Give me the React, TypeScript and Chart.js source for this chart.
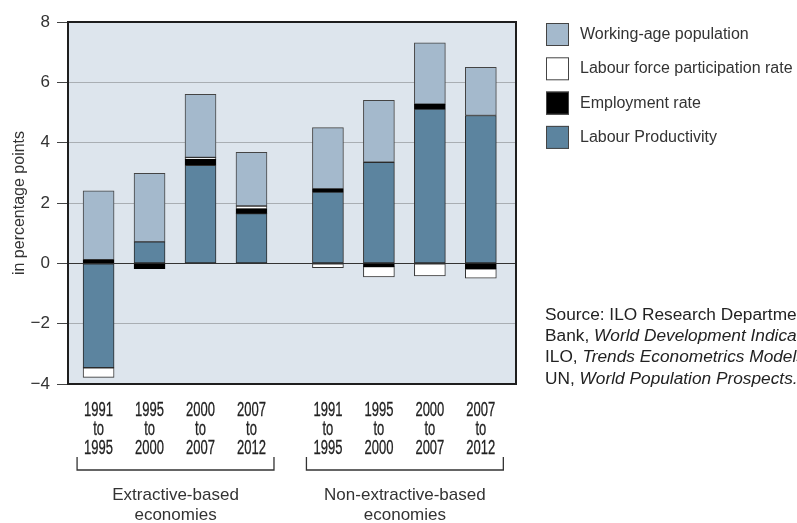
import React, { useEffect, useRef } from "react";
import { Chart, registerables } from "chart.js";

Chart.register(...registerables);

// ---- data ----
const groupNames = [["Extractive-based", "economies"], ["Non-extractive-based", "economies"]];
const periods = [
  ["1991", "to", "1995"],
  ["1995", "to", "2000"],
  ["2000", "to", "2007"],
  ["2007", "to", "2012"],
];
const seriesNames = ["Labour Productivity", "Employment rate", "Labour force participation rate", "Working-age population"];
const labourProductivity = [-3.46, 0.71, 3.25, 1.65, 2.36, 3.35, 5.11, 4.9];
const employmentRate = [0.12, -0.18, 0.2, 0.15, 0.11, -0.11, 0.17, -0.18];
const labourForceParticipation = [-0.32, 0, 0.06, 0.1, -0.14, -0.34, -0.42, -0.31];
const workingAgePopulation = [2.28, 2.27, 2.09, 1.78, 2.03, 2.05, 2.03, 1.6];
const yTickValues = [8, 6, 4, 2, 0, -2, -4];
const yTitle = "in percentage points";
const sourceLines = [
  [{ t: "Source: ILO Research Department calculations based on World", it: false }],
  [{ t: "Bank, ", it: false }, { t: "World Development Indicators;", it: true }],
  [{ t: "ILO, ", it: false }, { t: "Trends Econometrics Models;", it: true }],
  [{ t: "UN, ", it: false }, { t: "World Population Prospects.", it: true }],
];

const colors = {
  lp: "#5c849f",
  emp: "#000000",
  lfp: "#ffffff",
  wap: "#a4b9cc",
  bg: "#dde5ed",
  grid: "#a9aeb3",
  text: "#333333",
};

const FONT = "'Liberation Sans', Arial, sans-serif";

export default function App() {
  const ref = useRef<HTMLCanvasElement | null>(null);

  useEffect(() => {
    if (!ref.current) return;
    const nPer = periods.length;
    const xs: number[] = [];
    const xLabels: string[][] = [];
    groupNames.forEach((_, g) => {
      periods.forEach((p, j) => {
        xs.push(g * (nPer + 0.5) + j);
        xLabels.push(p);
      });
    });
    const toPts = (arr: number[]) => arr.map((v, i) => ({ x: xs[i], y: v === 0 ? null : v }));

    const mk = (label: string, data: number[], bg: string, border: string) => ({
      label,
      data: toPts(data),
      backgroundColor: bg,
      borderColor: border,
      borderWidth: 1,
      borderSkipped: false,
      barThickness: 31,
    });

    const decor = {
      id: "decor",
      beforeDraw(chart: any) {
        const { ctx, chartArea: a } = chart;
        ctx.save();
        ctx.fillStyle = colors.bg;
        ctx.fillRect(a.left, a.top, a.right - a.left, a.bottom - a.top);
        ctx.restore();
      },
      afterDraw(chart: any) {
        const { ctx, chartArea: a } = chart;
        const xScale = chart.scales.x;
        ctx.save();
        // frame
        ctx.strokeStyle = "#1e1e1e";
        ctx.lineWidth = 2;
        ctx.strokeRect(a.left, a.top, a.right - a.left, a.bottom - a.top);

        // condensed x-axis category labels, placed by the x scale
        ctx.fillStyle = "#222";
        ctx.strokeStyle = "#222";
        ctx.lineWidth = 0.3;
        ctx.textAlign = "center";
        ctx.textBaseline = "middle";
        ctx.font = `20px ${FONT}`;
        xLabels.forEach((lines, i) => {
          const px = xScale.getPixelForValue(xs[i]);
          lines.forEach((ln, k) => {
            ctx.save();
            ctx.translate(px, a.bottom + 26 + k * 19);
            ctx.scale(0.65, 1);
            ctx.fillText(ln, 0, 0);
            ctx.strokeText(ln, 0, 0);
            ctx.restore();
          });
        });

        // brackets & group labels
        ctx.strokeStyle = "#333";
        ctx.lineWidth = 1.3;
        ctx.fillStyle = colors.text;
        ctx.font = `17px ${FONT}`;
        groupNames.forEach((lines, g) => {
          const x0 = xScale.getPixelForValue(xs[g * nPer]) - 21.5;
          const x1 = xScale.getPixelForValue(xs[g * nPer + nPer - 1]) + 22.5;
          const yb = 470;
          ctx.beginPath();
          ctx.moveTo(x0, yb - 13);
          ctx.lineTo(x0, yb);
          ctx.lineTo(x1, yb);
          ctx.lineTo(x1, yb - 13);
          ctx.stroke();
          const cx = (x0 + x1) / 2;
          lines.forEach((ln, k) => ctx.fillText(ln, cx, 495 + k * 20.5));
        });

        // legend
        const legendItems = [
          { name: seriesNames[3], c: colors.wap },
          { name: seriesNames[2], c: colors.lfp },
          { name: seriesNames[1], c: colors.emp },
          { name: seriesNames[0], c: colors.lp },
        ];
        ctx.textAlign = "left";
        ctx.font = `16px ${FONT}`;
        legendItems.forEach((it, k) => {
          const top = 23 + k * 34.3;
          ctx.fillStyle = it.c;
          ctx.fillRect(546, top, 23, 23);
          ctx.strokeStyle = "#444";
          ctx.lineWidth = 1;
          ctx.strokeRect(546.5, top + 0.5, 22, 22);
          ctx.fillStyle = colors.text;
          ctx.fillText(it.name, 580, top + 11.5);
        });

        // source
        sourceLines.forEach((segs, k) => {
          let x = 545;
          const y = 315 + k * 21.3;
          segs.forEach((s) => {
            ctx.font = `${s.it ? "italic " : ""}17.3px ${FONT}`;
            ctx.fillStyle = "#222";
            ctx.fillText(s.t, x, y);
            x += ctx.measureText(s.t).width;
          });
        });
        ctx.restore();
      },
    };

    const chart = new Chart(ref.current, {
      type: "bar",
      data: {
        datasets: [
          mk(seriesNames[0], labourProductivity, colors.lp, "#2a2a2a"),
          mk(seriesNames[1], employmentRate, colors.emp, "#000"),
          mk(seriesNames[2], labourForceParticipation, colors.lfp, "#333"),
          mk(seriesNames[3], workingAgePopulation, colors.wap, "#444"),
        ] as any,
      },
      options: {
        responsive: false,
        animation: false,
        layout: { padding: { left: 0, top: 22, right: 281, bottom: 0 } },
        plugins: { legend: { display: false }, tooltip: { enabled: false } },
        scales: {
          x: {
            type: "linear",
            stacked: true,
            offset: false,
            min: -0.6,
            max: 8.19,
            grid: { display: false, drawTicks: false },
            border: { display: false },
            afterBuildTicks: (scale: any) => {
              scale.ticks = xs.map((v) => ({ value: v }));
            },
            afterFit: (scale: any) => {
              scale.height = 139;
            },
            ticks: { display: false },
          },
          y: {
            stacked: true,
            min: -4,
            max: 8,
            afterBuildTicks: (scale: any) => {
              scale.ticks = yTickValues.map((v) => ({ value: v }));
            },
            afterFit: (scale: any) => {
              scale.width = 68;
            },
            border: { display: false },
            grid: {
              color: (c: any) => (c.tick && c.tick.value === 0 ? "#333" : colors.grid),
              lineWidth: 1,
              tickColor: "#444",
              tickLength: 11,
              drawTicks: true,
            },
            ticks: {
              padding: 7,
              color: colors.text,
              font: { family: FONT, size: 17 },
              callback: (v: any) => (v < 0 ? "\u2212" + Math.abs(v) : String(v)),
            },
            title: {
              display: true,
              text: yTitle,
              color: colors.text,
              font: { family: FONT, size: 16 },
              padding: { top: 10, bottom: 0 },
            },
          },
        },
      },
      plugins: [decor],
    });
    return () => chart.destroy();
  }, []);

  return (
    <div style={{ position: "absolute", left: 0, top: 0, width: 797, height: 523, background: "#fff" }}>
      <canvas ref={ref} width={797} height={523} style={{ display: "block" }} />
    </div>
  );
}
